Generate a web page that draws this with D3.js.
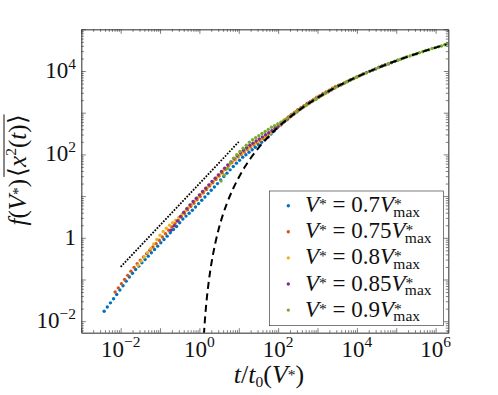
<!DOCTYPE html>
<html>
<head>
<meta charset="utf-8">
<script src="https://cdnjs.cloudflare.com/ajax/libs/d3/7.8.5/d3.min.js"></script>
<style>
  body { margin: 0; background: #fff; }
</style>
</head>
<body>
<script>
// runs for V* = 0.7 ... 0.9 Vmax, sampled every 0.08 in log10(t/t0),
// values stored as log10 of f(V*) <x^2(t)>
const runLabels = ['0.7', '0.75', '0.8', '0.85', '0.9'];
const runColors = ['#0072BD', '#D95319', '#EDB120', '#7E2F8E', '#77AC30'];
const runLogTStart = [-2.42, -2.14, -1.56, -0.72, 0.55];
const logTStep = 0.08;

const logY070 = [-1.76,-1.66,-1.56,-1.46,-1.36,-1.25,-1.15,-1.04,-0.94,-0.85,
  -0.76,-0.68,-0.60,-0.52,-0.44,-0.36,-0.28,-0.20,-0.12,-0.04,
  0.04,0.12,0.20,0.27,0.36,0.45,0.52,0.59,0.66,0.74,
  0.82,0.90,0.98,1.06,1.14,1.22,1.30,1.39,1.47,1.55,
  1.63,1.71,1.79,1.86,1.93,1.99,2.05,2.11,2.17,2.23,
  2.29,2.35,2.41,2.49,2.56,2.64,2.70,2.77,2.83,2.90,
  2.96,3.01,3.07,3.12,3.17,3.23,3.27,3.32,3.37,3.41,
  3.46,3.50];
const logY075 = [-1.30,-1.20,-1.10,-1.00,-0.90,-0.80,-0.71,-0.62,-0.54,-0.46,
  -0.38,-0.30,-0.22,-0.14,-0.06,0.02,0.10,0.18,0.26,0.34,
  0.42,0.50,0.58,0.67,0.75,0.83,0.91,0.99,1.08,1.16,
  1.24,1.32,1.40,1.48,1.56,1.64,1.72,1.80,1.87,1.94,
  2.00,2.06,2.12,2.18,2.23,2.28,2.33,2.38,2.43,2.50,
  2.57,2.64,2.70,2.77,2.83,2.90,2.96,3.01,3.07,3.12,
  3.17,3.23,3.27,3.32,3.37,3.41,3.46,3.50,3.54,3.59,
  3.63,3.66];
const logY080 = [-0.66,-0.56,-0.46,-0.36,-0.26,-0.15,-0.04,0.06,0.15,0.23,
  0.30,0.36,0.42,0.49,0.56,0.64,0.72,0.80,0.88,0.96,
  1.04,1.12,1.20,1.28,1.36,1.44,1.52,1.60,1.67,1.75,
  1.82,1.89,1.96,2.03,2.09,2.15,2.21,2.26,2.31,2.36,
  2.41,2.46,2.51,2.57,2.63,2.69,2.75,2.82,2.88,2.94,
  3.00,3.05,3.11,3.16,3.21,3.26,3.31,3.36,3.40,3.45,
  3.49,3.53,3.58,3.62,3.66,3.69,3.73,3.77,3.80,3.84,
  3.87,3.91];
const logY085 = [0.18,0.29,0.40,0.51,0.61,0.70,0.79,0.87,0.95,1.03,
  1.11,1.19,1.27,1.35,1.43,1.51,1.59,1.67,1.75,1.82,
  1.90,1.97,2.04,2.10,2.16,2.22,2.27,2.32,2.37,2.42,
  2.47,2.52,2.57,2.62,2.67,2.73,2.79,2.85,2.91,2.97,
  3.03,3.08,3.14,3.19,3.24,3.29,3.33,3.38,3.43,3.47,
  3.51,3.55,3.60,3.64,3.67,3.71,3.75,3.79,3.82,3.86,
  3.89,3.93,3.96,3.99,4.02,4.05,4.09,4.12,4.15,4.17,
  4.20,4.23,4.26];
const logY090 = [1.36,1.50,1.66,1.80,1.91,1.99,2.07,2.15,2.22,2.29,
  2.35,2.40,2.45,2.50,2.55,2.60,2.65,2.69,2.73,2.77,
  2.82,2.87,2.92,2.97,3.03,3.08,3.13,3.18,3.23,3.28,
  3.33,3.37,3.42,3.46,3.51,3.55,3.59,3.63,3.67,3.71,
  3.75,3.78,3.82,3.85,3.89,3.92,3.95,3.99,4.02,4.05,
  4.08,4.11,4.14,4.17,4.20,4.23,4.26,4.28,4.31,4.34,
  4.36,4.39,4.41,4.44,4.46,4.49,4.51,4.54,4.56,4.58,
  4.60,4.63,4.65];
const runLogY = [logY070, logY075, logY080, logY085, logY090];

// dashed asymptotic curve
const theoryT = [1.3, 1.4, 1.5, 1.7, 2, 2.5, 3, 4, 5, 7, 10, 15, 20, 30, 50, 100,
  200, 500, 1e3, 3e3, 1e4, 3e4, 1e5, 3e5, 1e6, 1.9e6];
const theoryY = [0.0047, 0.0128, 0.027, 0.079, 0.23, 0.70, 1.46, 3.7, 6.7, 14.3, 28, 54, 81, 134, 234, 450,
  788, 1490, 2280, 4110, 7200, 11300, 17600, 25300, 36400, 43700];

// dotted guide line (slope 1)
const guideT = [0.01, 10];
const guideY = [0.2, 200];

const xTickVals = [1e-2, 1, 1e2, 1e4, 1e6];
const xTickExp = ['\u22122', '0', '2', '4', '6'];
const yTickVals = [1e-2, 1, 1e2, 1e4];
const yTickBase = ['10', '1', '10', '10'];
const yTickExp = ['\u22122', '', '2', '4'];

const width = 498, height = 395;
const pLeft = 81.3, pRight = 448.3, pTop = 29.3, pBottom = 332.7;
const fs = 23, fsSmall = 15.5;
const fontFamily = 'Liberation Serif, Times New Roman, serif';
const axisColor = '#262626';
const textColor = '#111';

const svg = d3.select('body').append('svg')
  .attr('width', width)
  .attr('height', height)
  .attr('font-family', fontFamily);

const x = d3.scaleLog().domain([1e-3, 2.1e6]).range([pLeft, pRight]);
const y = d3.scaleLog().domain([5.3e-3, 1e5]).range([pBottom, pTop]);

svg.append('clipPath').attr('id', 'plotclip')
  .append('rect')
  .attr('x', pLeft).attr('y', pTop)
  .attr('width', pRight - pLeft).attr('height', pBottom - pTop);

const plot = svg.append('g').attr('clip-path', 'url(#plotclip)');

runLogY.forEach((vals, s) => {
  plot.append('g')
    .selectAll('circle')
    .data(vals)
    .enter()
    .append('circle')
    .attr('cx', (d, i) => x(Math.pow(10, runLogTStart[s] + i * logTStep)))
    .attr('cy', (d) => y(Math.pow(10, d)))
    .attr('r', 1.7)
    .attr('fill', runColors[s]);
});

const line = d3.line()
  .x((d) => x(d[0]))
  .y((d) => y(d[1]))
  .curve(d3.curveMonotoneX);

plot.append('path')
  .datum(guideT.map((t, i) => [t, guideY[i]]))
  .attr('d', line)
  .attr('fill', 'none')
  .attr('stroke', '#000')
  .attr('stroke-width', 1.8)
  .attr('stroke-dasharray', '1.7 1.4');

plot.append('path')
  .datum(theoryT.map((t, i) => [t, theoryY[i]]))
  .attr('d', line)
  .attr('fill', 'none')
  .attr('stroke', '#000')
  .attr('stroke-width', 2)
  .attr('stroke-dasharray', '7 4.5');

// box with inward ticks on all four sides
function logTicks(scale) {
  const [d0, d1] = scale.domain();
  const out = [];
  for (let e = -4; e <= 7; e++) {
    for (let k = 1; k < 10; k++) out.push(+(k * Math.pow(10, e)).toPrecision(3));
  }
  return out.filter((v) => v >= d0 && v <= d1);
}
const xAll = logTicks(x), yAll = logTicks(y);
const isDecade = (v) => Math.abs(Math.log10(v) - Math.round(Math.log10(v))) < 1e-6;

function addAxis(axisFn, scale, vals, size, tx, ty) {
  const g = svg.append('g')
    .attr('transform', 'translate(' + tx + ',' + ty + ')')
    .call(axisFn(scale).tickValues(vals).tickSize(size).tickSizeOuter(0).tickFormat(''));
  g.selectAll('line, path').attr('stroke', axisColor).attr('stroke-width', 0.6);
}
addAxis(d3.axisBottom, x, xAll.filter(isDecade), -4.5, 0, pBottom);
addAxis(d3.axisBottom, x, xAll.filter((v) => !isDecade(v)), -2.5, 0, pBottom);
addAxis(d3.axisTop, x, xAll.filter(isDecade), -4.5, 0, pTop);
addAxis(d3.axisTop, x, xAll.filter((v) => !isDecade(v)), -2.5, 0, pTop);
addAxis(d3.axisLeft, y, yAll.filter(isDecade), -4.5, pLeft, 0);
addAxis(d3.axisLeft, y, yAll.filter((v) => !isDecade(v)), -2.5, pLeft, 0);
addAxis(d3.axisRight, y, yAll.filter(isDecade), -4.5, pRight, 0);
addAxis(d3.axisRight, y, yAll.filter((v) => !isDecade(v)), -2.5, pRight, 0);

// small helper to write math-like text with tspans
function mathText(parent, parts) {
  const t = parent.append('text')
    .attr('font-family', fontFamily)
    .attr('font-size', fs)
    .attr('fill', textColor);
  parts.forEach((p) => {
    const ts = t.append('tspan').text(p.s);
    if (p.i) ts.attr('font-style', 'italic');
    if (p.f) ts.attr('font-size', p.f);
    if (p.dy) ts.attr('dy', p.dy);
    if (p.dx) ts.attr('dx', p.dx);
  });
  return t;
}

xTickVals.forEach((v, i) => {
  mathText(svg, [{s: '10'}, {s: xTickExp[i], f: fsSmall, dy: -10}])
    .attr('x', x(v))
    .attr('y', 357)
    .attr('text-anchor', 'middle');
});

yTickVals.forEach((v, i) => {
  const parts = [{s: yTickBase[i]}];
  if (yTickExp[i]) parts.push({s: yTickExp[i], f: fsSmall, dy: -9.5});
  mathText(svg, parts)
    .attr('x', 76)
    .attr('y', y(v) + 7)
    .attr('text-anchor', 'end');
});

// x label: t / t0(V*)
mathText(svg, [
  {s: 't', i: 1}, {s: '/'}, {s: 't', i: 1}, {s: '0', f: fsSmall, dy: 4},
  {s: '(', dy: -4}, {s: 'V', i: 1}, {s: '*', f: fsSmall, dy: -3}, {s: ')', dy: 3}
])
  .attr('font-size', 26)
  .attr('x', 269)
  .attr('y', 383)
  .attr('text-anchor', 'middle');

// y label: f(V*) overline{<x^2(t)>}
const ylSize = 25;
const yl = svg.append('g').attr('transform', 'translate(26,' + ((pTop + pBottom) / 2 - 11) + ') rotate(-90)');
const ylA = mathText(yl, [
  {s: 'f', i: 1}, {s: '('}, {s: 'V', i: 1}, {s: '*', f: fsSmall, dy: -3}, {s: ')', dy: 3}
]).attr('font-size', ylSize);
const ylB = mathText(yl, [
  {s: '\u27e8'}, {s: 'x', i: 1}, {s: '2', f: fsSmall, dy: -10}, {s: '(', dy: 10},
  {s: 't', i: 1}, {s: ')'}, {s: '\u27e9'}
]).attr('font-size', ylSize);
const wA = ylA.node().getComputedTextLength();
const wB = ylB.node().getComputedTextLength();
const x0 = -(wA + wB + 2) / 2;
ylA.attr('x', x0);
ylB.attr('x', x0 + wA + 2);
yl.append('line')
  .attr('x1', x0 + wA + 2).attr('x2', x0 + wA + 2 + wB)
  .attr('y1', -22).attr('y2', -22)
  .attr('stroke', textColor).attr('stroke-width', 1);

// legend
const lg = svg.append('g');
lg.append('rect')
  .attr('x', 269.3).attr('y', 191)
  .attr('width', 174).attr('height', 134.7)
  .attr('fill', '#fff')
  .attr('stroke', axisColor)
  .attr('stroke-width', 0.6);

runLabels.forEach((lab, i) => {
  const yy = 205.7 + i * 26.1;
  lg.append('circle')
    .attr('cx', 288.3).attr('cy', yy).attr('r', 1.7)
    .attr('fill', runColors[i]);
  mathText(lg, [
    {s: 'V', i: 1}, {s: '*', f: fsSmall, dy: -3}, {s: ' = ' + lab, dy: 3},
    {s: 'V', i: 1}, {s: '*', f: fsSmall, dy: -3}, {s: 'max', f: fsSmall, dx: -8.5, dy: 7.5}
  ])
    .attr('x', 305)
    .attr('y', yy + 6.5);
});
</script>
</body>
</html>
